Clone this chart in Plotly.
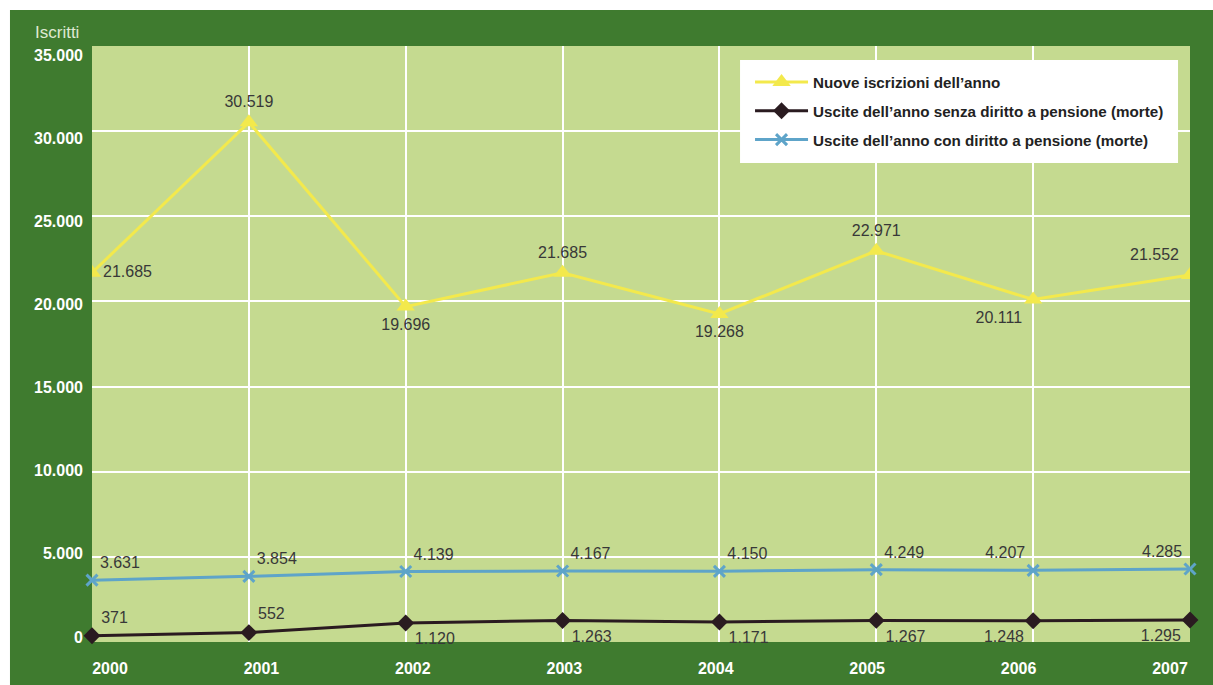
import plotly.graph_objects as go

# Anni e serie (numero di iscritti)
anni = [2000, 2001, 2002, 2003, 2004, 2005, 2006, 2007]
nuove_iscrizioni = [21685, 30519, 19696, 21685, 19268, 22971, 20111, 21552]
uscite_senza_pensione = [371, 552, 1120, 1263, 1171, 1267, 1248, 1295]
uscite_con_pensione = [3631, 3854, 4139, 4167, 4150, 4249, 4207, 4285]

nomi = [
    "Nuove iscrizioni dell\u2019anno",
    "Uscite dell\u2019anno senza diritto a pensione (morte)",
    "Uscite dell\u2019anno con diritto a pensione (morte)",
]

y_ticks = [0, 5000, 10000, 15000, 20000, 25000, 30000, 35000]

# Posizione delle etichette di valore per ciascun punto
pos_nuove = ["middle right", "top center", "bottom center", "top center",
             "bottom center", "top center", "bottom left", "top left"]
pos_senza = ["top right", "top right", "bottom right", "bottom right",
             "bottom right", "bottom right", "bottom left", "bottom left"]
pos_con = ["top right", "top right", "top right", "top right",
           "top right", "top right", "top left", "top left"]

VERDE_SCURO = "#3f7b2f"
VERDE_CHIARO = "#c5da90"
GIALLO = "#f3e94c"
AZZURRO = "#5ea4c9"
NERO = "#2a1b20"
TESTO = "#383838"


def fmt(v):
    return f"{v:,}".replace(",", ".")


label_font = dict(family="Liberation Sans, Arial, sans-serif", size=16, color=TESTO)

fig = go.Figure()

fig.add_trace(go.Scatter(
    x=anni, y=nuove_iscrizioni, name=nomi[0], legendgroup="a",
    mode="lines+markers+text",
    line=dict(color=GIALLO, width=3),
    marker=dict(symbol="triangle-up", size=16, color=GIALLO),
    text=[fmt(v) for v in nuove_iscrizioni], textposition=pos_nuove,
    textfont=label_font, cliponaxis=True,
))
fig.add_trace(go.Scatter(
    x=anni, y=uscite_senza_pensione, name=nomi[1], legendgroup="b",
    mode="lines+markers+text",
    line=dict(color=NERO, width=3),
    marker=dict(symbol="diamond", size=13, color=NERO),
    text=[fmt(v) for v in uscite_senza_pensione], textposition=pos_senza,
    textfont=label_font, cliponaxis=False,
))
fig.add_trace(go.Scatter(
    x=anni, y=uscite_con_pensione, name=nomi[2], legendgroup="c",
    mode="lines+markers+text",
    line=dict(color=AZZURRO, width=3),
    marker=dict(symbol="x-thin", size=11, color=AZZURRO,
                line=dict(color=AZZURRO, width=3)),
    text=[fmt(v) for v in uscite_con_pensione], textposition=pos_con,
    textfont=label_font, cliponaxis=False,
))

# Tracce vuote che portano gli assi delle etichette (x2 e y2)
fig.add_trace(go.Scatter(x=anni, y=[None] * len(anni), xaxis="x2", yaxis="y",
                         showlegend=False, hoverinfo="skip", mode="markers"))
fig.add_trace(go.Scatter(x=anni, y=[None] * len(anni), xaxis="x", yaxis="y2",
                         showlegend=False, hoverinfo="skip", mode="markers"))

tick_font = dict(family="Liberation Sans, Arial, sans-serif", size=16,
                 color="white", weight="bold")

fig.update_layout(
    width=1213, height=685,
    margin=dict(l=92, r=23, t=46, b=43, autoexpand=False),
    paper_bgcolor=VERDE_SCURO,
    plot_bgcolor=VERDE_CHIARO,
    separators=",.",
    showlegend=True,
    legend=dict(
        x=0.5993, y=0.967, xanchor="left", yanchor="top",
        bgcolor="rgba(0,0,0,0)", borderwidth=0,
        font=dict(family="Liberation Sans, Arial, sans-serif", size=15.2,
                  color="#222222", weight="bold"),
        traceorder="grouped", tracegroupgap=6,
        itemwidth=53,
    ),
    xaxis=dict(
        range=[2000, 2007], tickvals=anni, showticklabels=False,
        showgrid=True, gridcolor="white", gridwidth=1.5,
        zeroline=False, showline=False, ticks="", automargin=False,
    ),
    xaxis2=dict(
        overlaying="x", anchor="y", side="bottom",
        range=[1999.881, 2007.132], tickvals=anni, ticktext=[str(a) for a in anni],
        showgrid=False, zeroline=False, showline=False, ticks="",
        tickfont=dict(family="Liberation Sans, Arial, sans-serif", size=16,
                      color="white", weight="bold"),
        ticklabelstandoff=15, automargin=False,
    ),
    yaxis=dict(
        range=[0, 35000], tickvals=y_ticks, showticklabels=False,
        showgrid=True, gridcolor="white", gridwidth=2,
        zeroline=False, showline=False, ticks="", automargin=False,
    ),
    yaxis2=dict(
        overlaying="y", anchor="x", side="left",
        range=[-300.7, 35541.2], tickvals=y_ticks,
        tickformat=",d", showgrid=False, zeroline=False, showline=False,
        ticks="", tickfont=tick_font, ticklabelstandoff=8, automargin=False,
    ),
    shapes=[
        # bordo bianco esterno
        dict(type="rect", xref="paper", yref="paper", layer="above",
             x0=-0.09, x1=-0.0747, y0=-0.1, y1=1.1,
             fillcolor="white", line=dict(width=0)),
        dict(type="rect", xref="paper", yref="paper", layer="above",
             x0=-0.09, x1=1.05, y0=1.0604, y1=1.1,
             fillcolor="white", line=dict(width=0)),
        # riquadro della legenda
        dict(type="rect", xref="paper", yref="paper", layer="above",
             x0=0.5902, x1=0.9891, y0=0.8037, y1=0.9765,
             fillcolor="white", line=dict(width=0)),
    ],
    annotations=[
        dict(text="Iscritti", xref="paper", yref="paper",
             x=-0.0535, y=1.022, xanchor="left", yanchor="middle",
             showarrow=False,
             font=dict(family="Liberation Sans, Arial, sans-serif", size=17,
                       color="#dfe9d2")),
    ],
)

fig.write_html("out.html")
